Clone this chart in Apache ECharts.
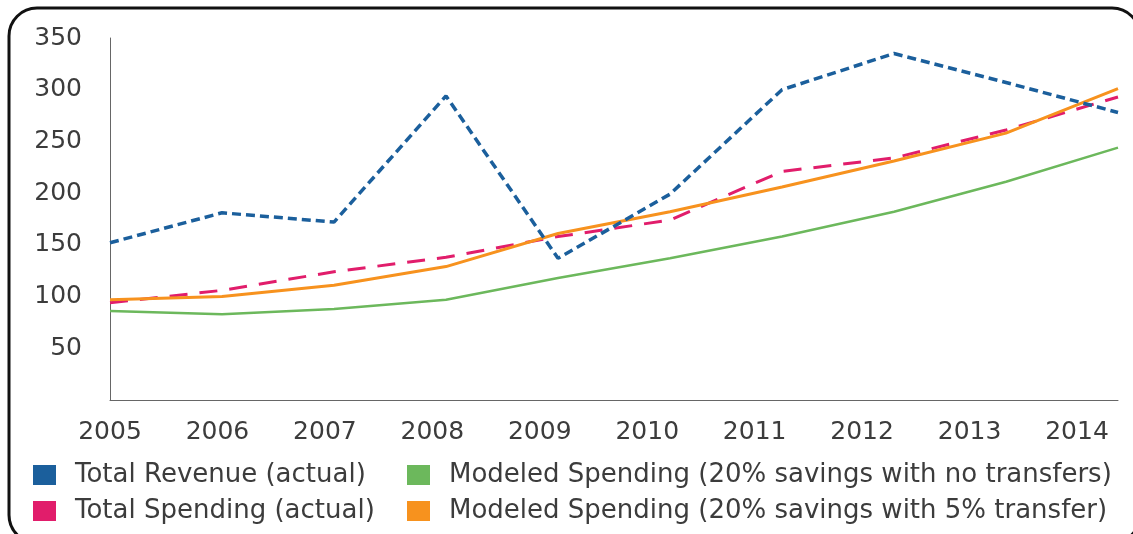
<!DOCTYPE html>
<html>
<head>
<meta charset="utf-8">
<style>
  html, body { margin: 0; padding: 0; background: #fff; }
  #chart { width: 1133px; height: 534px; }
</style>
<script src="https://cdn.jsdelivr.net/npm/echarts@6/dist/echarts.min.js"></script>
</head>
<body>
<div id="chart"></div>
<script>
// Years on the horizontal axis
const years = ['2005', '2006', '2007', '2008', '2009', '2010', '2011', '2012', '2013', '2014'];

// Series values (millions)
const totalRevenue = [152, 181, 172, 294, 137, 199, 300, 335, 307, 278];
const totalSpending = [94, 106, 124, 138, 158, 174, 221, 234, 261, 293];
const modeledNoTransfers = [86, 83, 88, 97, 118, 137, 158, 182, 211, 244];
const modeledFivePct = [97, 100, 111, 129, 161, 182, 206, 231, 258, 301];

// Value-axis ticks
const yTicks = [0, 50, 100, 150, 200, 250, 300, 350];

const names = {
  rev: 'Total Revenue (actual)',
  spend: 'Total Spending (actual)',
  noT: 'Modeled Spending (20% savings with no transfers)',
  fiveT: 'Modeled Spending (20% savings with 5% transfer)'
};
const colors = { rev: '#1b5f9c', spend: '#e11d6b', noT: '#6cb85c', fiveT: '#f7921e' };

const font = 'DejaVu Sans';
const textColor = '#3c3c3c';
const chart = echarts.init(document.getElementById('chart'), null, { renderer: 'canvas' });

const legendBase = {
  orient: 'vertical', top: 460, padding: 0,
  icon: 'rect', itemWidth: 23, itemHeight: 20, itemGap: 6,
  textStyle: { color: textColor, fontFamily: font, fontSize: 26, lineHeight: 30, padding: [0, 0, 0, 14] }
};

chart.setOption({
  animation: false,
  backgroundColor: '#fff',
  graphic: [{
    type: 'rect',
    shape: { x: 9, y: 8, width: 1131, height: 535, r: 28 },
    style: { fill: 'none', stroke: '#111', lineWidth: 3 },
    silent: true
  }],
  grid: [
    { left: 110, right: 15, top: 38, bottom: 134 },
    // year labels sit on their own evenly spaced scale
    { left: 110, right: 56, top: 38, bottom: 134 }
  ],
  xAxis: [
    {
      gridIndex: 0, type: 'category', data: years, boundaryGap: false,
      axisLine: { show: true, lineStyle: { color: '#666', width: 1 } },
      axisTick: { show: false }, axisLabel: { show: false }, splitLine: { show: false }
    },
    {
      gridIndex: 1, type: 'category', data: years, boundaryGap: false,
      axisLine: { show: false }, axisTick: { show: false }, splitLine: { show: false },
      axisLabel: { show: true, margin: 20, color: textColor, fontFamily: font, fontSize: 25 }
    }
  ],
  yAxis: [
    {
      gridIndex: 0, type: 'value', min: yTicks[0], max: yTicks[yTicks.length - 1], interval: 50,
      axisLine: { show: true, lineStyle: { color: '#666', width: 1 } },
      axisTick: { show: false }, splitLine: { show: false },
      axisLabel: {
        margin: 28, color: textColor, fontFamily: font, fontSize: 25,
        formatter: v => (v === 0 ? '' : String(v))
      }
    },
    {
      gridIndex: 1, type: 'value', min: 0, max: 350, show: false
    }
  ],
  legend: [
    Object.assign({}, legendBase, { left: 33, data: [names.rev, names.spend] }),
    Object.assign({}, legendBase, { left: 407, data: [names.noT, names.fiveT] })
  ],
  series: [
    {
      name: names.noT, type: 'line', data: modeledNoTransfers, symbol: 'none',
      color: colors.noT, lineStyle: { width: 2.5, color: colors.noT }
    },
    {
      name: names.spend, type: 'line', data: totalSpending, symbol: 'none',
      color: colors.spend, lineStyle: { width: 3, color: colors.spend, type: [18, 12] }
    },
    {
      name: names.fiveT, type: 'line', data: modeledFivePct, symbol: 'none',
      color: colors.fiveT, lineStyle: { width: 3, color: colors.fiveT }
    },
    {
      name: names.rev, type: 'line', data: totalRevenue, symbol: 'none',
      color: colors.rev, lineStyle: { width: 3.5, color: colors.rev, type: [9, 5] }
    }
  ]
});
</script>
</body>
</html>
